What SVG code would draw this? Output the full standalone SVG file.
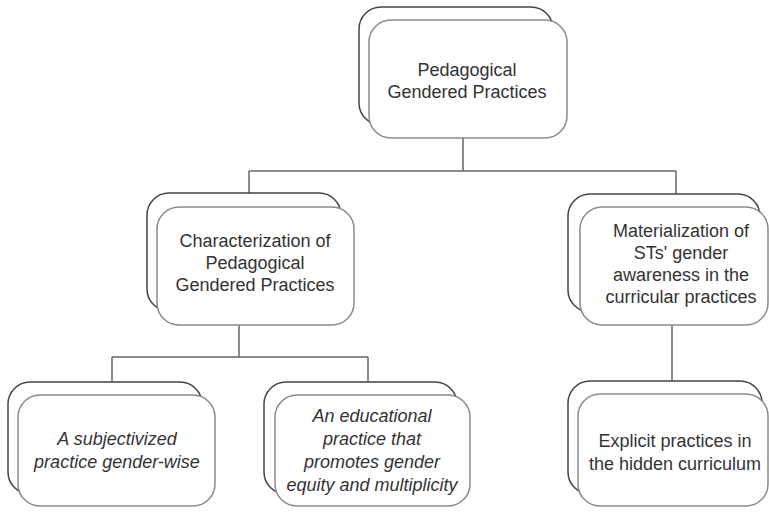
<svg xmlns="http://www.w3.org/2000/svg" width="769" height="515" viewBox="0 0 769 515">
<style>
.back{fill:#fff;stroke:#444;stroke-width:1.5}
.front{fill:#fff;stroke:#8a8a8a;stroke-width:1.5}
.t{font-family:"Liberation Sans",Arial,sans-serif;font-size:18px;fill:#333;text-anchor:middle}
.i{font-style:italic}
.c{fill:none;stroke:#666;stroke-width:1.5}
</style>
<rect width="769" height="515" fill="#fff"/>
<g id="connectors">
<path class="c" d="M463 138V171M249 171H676M249 171V193M676 171V194"/>
<path class="c" d="M239 325V357M112 357H368M112 357V382M368 357V382"/>
<path class="c" d="M672 325V381"/>
</g>
<g id="n1">
<rect class="back" x="359" y="7" width="194" height="118" rx="22"/>
<rect class="front" x="369" y="20" width="198" height="118" rx="22"/>
<text class="t" x="467" y="76">Pedagogical</text>
<text class="t" x="467" y="98">Gendered Practices</text>
</g>
<g id="n2">
<rect class="back" x="147" y="193" width="194" height="118" rx="22"/>
<rect class="front" x="157" y="207" width="197" height="118" rx="22"/>
<text class="t" x="255" y="247">Characterization of</text>
<text class="t" x="255" y="269">Pedagogical</text>
<text class="t" x="255" y="291">Gendered Practices</text>
</g>
<g id="n3">
<rect class="back" x="568" y="194" width="192" height="118" rx="22"/>
<rect class="front" x="580" y="207" width="188" height="118" rx="22"/>
<text class="t" x="681" y="237">Materialization of</text>
<text class="t" x="681" y="259">STs' gender</text>
<text class="t" x="681" y="281">awareness in the</text>
<text class="t" x="681" y="303">curricular practices</text>
</g>
<g id="n4">
<rect class="back" x="8" y="382" width="194" height="112" rx="22"/>
<rect class="front" x="18" y="395" width="197" height="111" rx="22"/>
<text class="t i" x="117" y="445">A subjectivized</text>
<text class="t i" x="117" y="468">practice gender-wise</text>
</g>
<g id="n5">
<rect class="back" x="264" y="382" width="193" height="112" rx="22"/>
<rect class="front" x="275" y="395" width="195" height="111" rx="22"/>
<text class="t i" x="372" y="422">An educational</text>
<text class="t i" x="372" y="445">practice that</text>
<text class="t i" x="372" y="468">promotes gender</text>
<text class="t i" x="372" y="491">equity and multiplicity</text>
</g>
<g id="n6">
<rect class="back" x="568" y="381" width="194" height="113" rx="22"/>
<rect class="front" x="578" y="394" width="190" height="112" rx="22"/>
<text class="t" x="675" y="447">Explicit practices in</text>
<text class="t" x="675" y="470">the hidden curriculum</text>
</g>
</svg>
